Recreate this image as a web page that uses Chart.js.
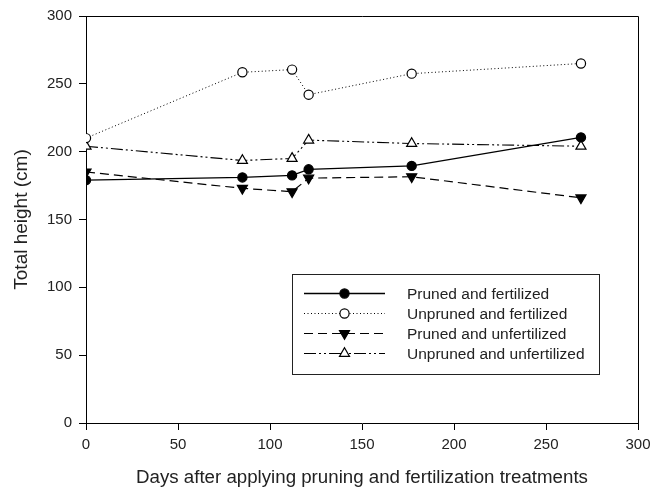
<!DOCTYPE html>
<html>
<head>
<meta charset="utf-8">
<script src="https://cdn.jsdelivr.net/npm/chart.js@4/dist/chart.umd.min.js"></script>
<style>
  html, body { margin: 0; padding: 0; background: #fff; }
  #wrap { width: 653px; height: 492px; }
</style>
</head>
<body>
<div id="wrap"><canvas id="chart"></canvas></div>
<script>
const days = [0, 85, 112, 121, 177, 269];
const prunedFert = [179, 181, 182.5, 187, 189.5, 210.5];
const unprunedFert = [210, 258.5, 260.5, 242, 257.5, 265];
const prunedUnfert = [185, 173, 170.5, 180.5, 181.5, 166];
const unprunedUnfert = [204, 193.5, 195, 208.5, 206, 204];
const seriesNames = ['Pruned and fertilized', 'Unpruned and fertilized', 'Pruned and unfertilized', 'Unpruned and unfertilized'];
const xTicks = [0, 50, 100, 150, 200, 250, 300];
const yTicks = [0, 50, 100, 150, 200, 250, 300];

const FONT = 'Arial, "Liberation Sans", sans-serif';
const toPoints = vals => vals.map((v, i) => ({ x: days[i], y: v }));

const styles = [
    { dash: [], width: 1.3, point: 'circle', radius: 4.6, fill: '#000', rot: 0 },
    { dash: [1, 2.5], width: 1, point: 'circle', radius: 4.6, fill: '#fff', rot: 0 },
    { dash: [9, 5], width: 1.2, point: 'triangle', radius: 5.8, fill: '#000', rot: 180 },
    { dash: [12, 3, 2, 3, 2, 3], width: 1.1, point: 'triangle', radius: 5.8, fill: '#fff', rot: 0 }
];

const seriesData = [prunedFert, unprunedFert, prunedUnfert, unprunedUnfert];

const datasets = seriesData.map((vals, i) => ({
    label: seriesNames[i],
    data: toPoints(vals),
    showLine: true,
    borderColor: '#000',
    borderWidth: styles[i].width,
    borderDash: styles[i].dash,
    pointStyle: styles[i].point,
    pointRadius: styles[i].radius,
    pointRotation: styles[i].rot,
    pointBackgroundColor: styles[i].fill,
    pointBorderColor: '#000',
    pointBorderWidth: 1.2,
    fill: false,
    tension: 0
}));

// top/right frame and the boxed legend
const framePlugin = {
    id: 'frame',
    afterDraw(chart) {
        const { ctx, chartArea: a } = chart;
        ctx.save();
        ctx.strokeStyle = '#000';
        ctx.lineWidth = 1;
        ctx.beginPath();
        ctx.moveTo(a.left, a.top + 0.5);
        ctx.lineTo(a.right + 0.5, a.top + 0.5);
        ctx.lineTo(a.right + 0.5, a.bottom);
        ctx.stroke();

        // legend box
        ctx.strokeStyle = '#222';
        ctx.strokeRect(292.5, 274.5, 307, 100);
        const rowY = [293.5, 313.5, 333.5, 353.5];
        ctx.font = '15.5px ' + FONT;
        ctx.textBaseline = 'middle';
        ctx.textAlign = 'left';
        seriesNames.forEach((name, i) => {
            const s = styles[i];
            ctx.strokeStyle = '#000';
            ctx.lineWidth = s.width;
            ctx.setLineDash(s.dash);
            ctx.beginPath();
            ctx.moveTo(304, rowY[i]);
            ctx.lineTo(385, rowY[i]);
            ctx.stroke();
            ctx.setLineDash([]);
            ctx.fillStyle = s.fill;
            ctx.lineWidth = 1.2;
            Chart.helpers.drawPoint(ctx, { pointStyle: s.point, radius: s.radius, rotation: s.rot, borderWidth: 1.2 }, 344.5, rowY[i]);
            ctx.fillStyle = '#222';
            ctx.fillText(name, 407, rowY[i] + 1);
        });
        ctx.restore();
    }
};

const ctx = document.getElementById('chart').getContext('2d');
new Chart(ctx, {
    type: 'scatter',
    data: { datasets: datasets },
    options: {
        responsive: true,
        maintainAspectRatio: false,
        animation: false,
        layout: { padding: { top: 15, right: 0, left: 0, bottom: 0 } },
        plugins: {
            legend: { display: false },
            tooltip: { enabled: false }
        },
        scales: {
            x: {
                type: 'linear',
                min: 0,
                max: 300,
                afterBuildTicks: scale => { scale.ticks = xTicks.map(v => ({ value: v })); },
                afterFit: scale => { scale.height = 69; scale.paddingRight = 15; },
                grid: { drawOnChartArea: false, drawTicks: true, tickLength: 7, color: '#000', tickWidth: 1 },
                border: { display: true, color: '#000', width: 1 },
                ticks: { color: '#222', font: { family: FONT, size: 15 }, padding: 6, maxRotation: 0 },
                title: {
                    display: true,
                    text: 'Days after applying pruning and fertilization treatments',
                    color: '#222',
                    font: { family: FONT, size: 18.7 },
                    padding: { top: 0, bottom: 3 }
                }
            },
            y: {
                type: 'linear',
                min: 0,
                max: 300,
                afterBuildTicks: scale => { scale.ticks = yTicks.map(v => ({ value: v })); },
                afterFit: scale => { scale.width = 86; },
                grid: { drawOnChartArea: false, drawTicks: true, tickLength: 7, color: '#000', tickWidth: 1 },
                border: { display: true, color: '#000', width: 1 },
                ticks: { color: '#222', font: { family: FONT, size: 15 }, padding: 7 },
                title: {
                    display: true,
                    text: 'Total height (cm)',
                    color: '#222',
                    font: { family: FONT, size: 19 },
                    padding: { top: 10.5, bottom: 0 }
                }
            }
        }
    },
    plugins: [framePlugin]
});
</script>
</body>
</html>
